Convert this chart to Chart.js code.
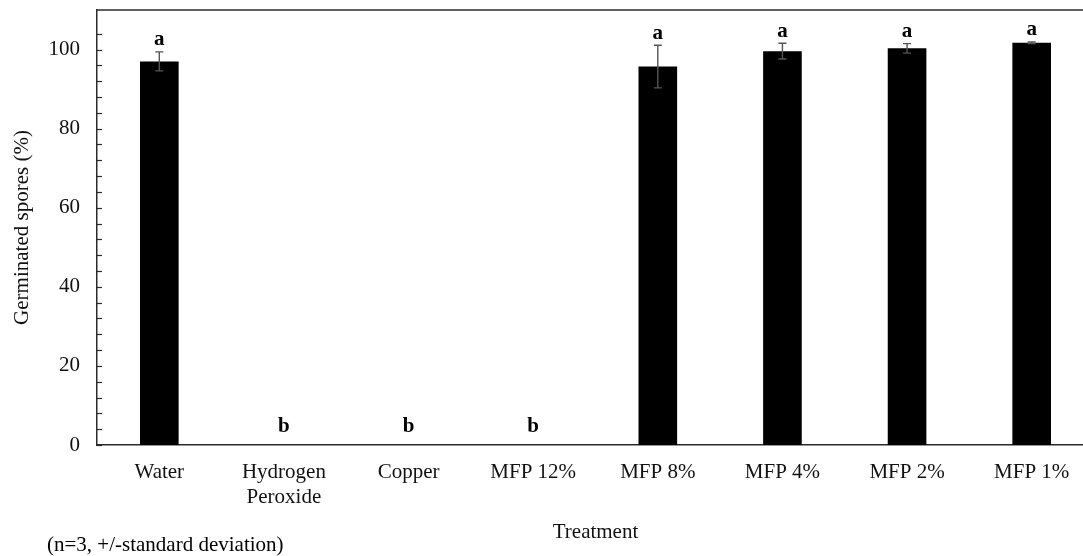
<!DOCTYPE html>
<html>
<head>
<meta charset="utf-8">
<script src="https://cdn.jsdelivr.net/npm/chart.js@4.4.1/dist/chart.umd.min.js"></script>
<style>
  html, body { margin: 0; padding: 0; background: #fff; overflow: hidden; }
  #wrap { position: relative; width: 1100px; height: 556px; }
</style>
</head>
<body>
<div id="wrap"><canvas id="chart"></canvas></div>
<script>
const categories = ['Water', ['Hydrogen', 'Peroxide'], 'Copper', 'MFP 12%', 'MFP 8%', 'MFP 4%', 'MFP 2%', 'MFP 1%'];
const germinated = [97.0, 0, 0, 0, 95.7, 99.6, 100.3, 101.7];
const stdDev = [2.4, 0, 0, 0, 5.4, 2.0, 1.2, 0.2];
const letters = ['a', 'b', 'b', 'b', 'a', 'a', 'a', 'a'];
const yLabelTicks = [0, 20, 40, 60, 80, 100];

const serif = '"Liberation Serif", "Times New Roman", serif';
const axisColor = '#2b2b2b';

// error bars, letters, inward ticks and the top frame line
const extras = {
  id: 'extras',
  afterDatasetsDraw(chart) {
    const ctx = chart.ctx;
    const x = chart.scales.x;
    const y = chart.scales.y;
    const area = chart.chartArea;
    ctx.save();

    // top frame
    ctx.strokeStyle = axisColor;
    ctx.lineWidth = 1.5;
    ctx.beginPath();
    ctx.moveTo(area.left, area.top);
    ctx.lineTo(area.right + 10, area.top);
    ctx.stroke();

    // inward minor ticks
    ctx.lineWidth = 1.2;
    y.ticks.forEach(t => {
      if (t.value >= y.max) return;
      const py = Math.round(y.getPixelForValue(t.value)) + 0.5;
      ctx.beginPath();
      ctx.moveTo(area.left, py);
      ctx.lineTo(area.left + 5, py);
      ctx.stroke();
    });

    // error bars
    ctx.strokeStyle = '#555';
    ctx.lineWidth = 1.4;
    germinated.forEach((v, i) => {
      if (!stdDev[i]) return;
      const px = x.getPixelForValue(i);
      const top = y.getPixelForValue(v + stdDev[i]);
      const bot = y.getPixelForValue(v - stdDev[i]);
      ctx.beginPath();
      ctx.moveTo(px, top); ctx.lineTo(px, bot);
      ctx.moveTo(px - 4, top); ctx.lineTo(px + 4, top);
      ctx.moveTo(px - 4, bot); ctx.lineTo(px + 4, bot);
      ctx.stroke();
    });

    // significance letters
    ctx.fillStyle = '#000';
    ctx.font = 'bold 21px ' + serif;
    ctx.textAlign = 'center';
    ctx.textBaseline = 'middle';
    germinated.forEach((v, i) => {
      const px = x.getPixelForValue(i);
      const py = v > 0 ? y.getPixelForValue(v + stdDev[i]) - 12 : y.getPixelForValue(0) - 18;
      ctx.fillText(letters[i], px, py);
    });

    // footnote
    ctx.font = '21px ' + serif;
    ctx.textAlign = 'left';
    ctx.fillText('(n=3, +/-standard deviation)', 47, 545);
    ctx.restore();
  }
};

new Chart(document.getElementById('chart'), {
  type: 'bar',
  data: {
    labels: categories,
    datasets: [{
      label: 'Germinated spores',
      data: germinated,
      backgroundColor: '#000',
      barPercentage: 0.31,
      categoryPercentage: 1.0
    }]
  },
  options: {
    responsive: true,
    maintainAspectRatio: false,
    animation: false,
    layout: { padding: { left: 0, right: 6, top: 10, bottom: 0 } },
    plugins: { legend: { display: false }, tooltip: { enabled: false } },
    scales: {
      x: {
        grid: { display: false, drawTicks: false },
        border: { display: true, color: axisColor, width: 1.5 },
        ticks: { color: '#111', padding: 15, font: { family: serif, size: 21 } },
        title: {
          display: true, text: 'Treatment', color: '#111',
          font: { family: serif, size: 21 }, padding: { top: 11, bottom: 11 }
        },
        afterFit(scale) {
          scale.height = 111;
          scale.paddingLeft = 0;
          scale.paddingRight = 0;
        }
      },
      y: {
        min: 0,
        max: 110,
        grid: { display: false, drawTicks: false },
        border: { display: true, color: axisColor, width: 1.5 },
        ticks: {
          stepSize: 4,
          autoSkip: false,
          padding: 17,
          color: '#111',
          font: { family: serif, size: 21 },
          callback: v => yLabelTicks.includes(v) ? String(v) : ''
        },
        title: {
          display: true, text: 'Germinated spores (%)', color: '#111',
          font: { family: serif, size: 21 }, padding: { top: 10, bottom: 0 }
        },
        afterFit(scale) {
          scale.width = 97;
          scale.paddingTop = 0;
          scale.paddingBottom = 0;
        }
      }
    }
  },
  plugins: [extras]
});
</script>
</body>
</html>
